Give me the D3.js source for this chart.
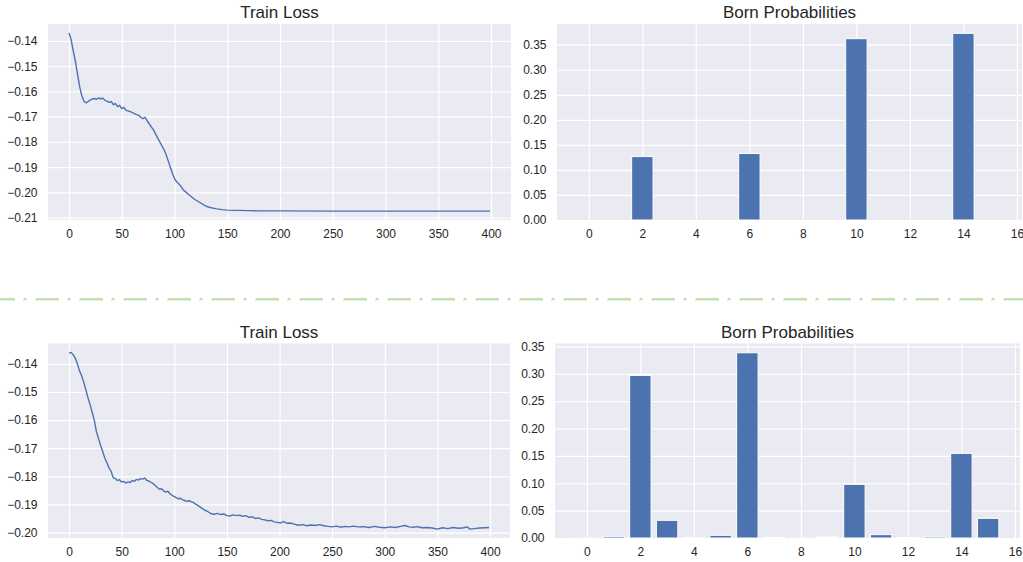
<!DOCTYPE html>
<html>
<head>
<meta charset="utf-8">
<script src="https://cdn.jsdelivr.net/npm/d3@7"></script>
<style>
  body { margin: 0; background: #ffffff; }
  svg { display: block; }
  text { font-family: "Liberation Sans", Arial, sans-serif; fill: #262626; }
</style>
</head>
<body>
<svg id="fig" width="1023" height="562"></svg>
<script>
// ---- Run 1: training loss (step, value) ----
const lossStepsA = [0,2,4,6,8,10,12,14,16,18,20,22,24,26,28,30,32,34,36,38,40,42,44,46,48,50,52,54,56,58,60,62,64,66,68,70,72,74,76,78,80,82,84,86,88,90,92,94,96,98,100,102,104,106,108,110,112,114,116,118,120,124,128,132,136,140,145,150,160,170,180,200,250,300,350,399];
const lossValuesA = [-0.1368,-0.1395,-0.1440,-0.1480,-0.1530,-0.1580,-0.1615,-0.1638,-0.1645,-0.1640,-0.1634,-0.1630,-0.1628,-0.1631,-0.1626,-0.1629,-0.1627,-0.1635,-0.1638,-0.1643,-0.1640,-0.1652,-0.1648,-0.1660,-0.1655,-0.1668,-0.1663,-0.1675,-0.1677,-0.1680,-0.1684,-0.1688,-0.1692,-0.1694,-0.1702,-0.1708,-0.1703,-0.1716,-0.1728,-0.1740,-0.1752,-0.1768,-0.1785,-0.1800,-0.1815,-0.1830,-0.1850,-0.1875,-0.1900,-0.1925,-0.1945,-0.1958,-0.1966,-0.1975,-0.1988,-0.1996,-0.2003,-0.2010,-0.2017,-0.2024,-0.2030,-0.2040,-0.2050,-0.2058,-0.2062,-0.2065,-0.2068,-0.2070,-0.2071,-0.2072,-0.2073,-0.2073,-0.2074,-0.2074,-0.2074,-0.2074];

// ---- Run 1: Born probabilities per basis state ----
const statesA = [0,1,2,3,4,5,6,7,8,9,10,11,12,13,14,15];
const probsA = [0,0,0.1266,0,0,0,0.1327,0,0,0,0.3620,0,0,0,0.3727,0];

// ---- Run 2: training loss (step, value) ----
const lossStepsB = [0,2,4,6,8,10,12,14,16,18,20,22,24,26,28,30,32,34,36,38,40,42,44,46,48,50,52,54,56,58,60,62,64,66,68,70,72,74,76,78,80,82,84,86,88,90,92,94,96,98,100,102,104,106,108,110,112,114,116,118,120,123,126,129,132,135,138,141,144,147,150,153,156,159,162,165,168,171,174,177,180,183,186,189,192,195,198,201,204,207,210,214,218,222,226,230,234,238,242,246,250,254,258,262,266,270,275,280,285,290,295,300,305,310,315,319,323,327,331,335,340,345,350,355,360,365,370,375,378,381,385,390,395,399];
const lossValuesB = [-0.1362,-0.1359,-0.1368,-0.1380,-0.1400,-0.1425,-0.1442,-0.1465,-0.1492,-0.1520,-0.1545,-0.1572,-0.1600,-0.1640,-0.1665,-0.1690,-0.1712,-0.1735,-0.1752,-0.1770,-0.1782,-0.1805,-0.1808,-0.1815,-0.1812,-0.1820,-0.1818,-0.1824,-0.1820,-0.1822,-0.1815,-0.1818,-0.1811,-0.1813,-0.1808,-0.1810,-0.1806,-0.1815,-0.1817,-0.1822,-0.1826,-0.1833,-0.1840,-0.1846,-0.1844,-0.1852,-0.1856,-0.1853,-0.1862,-0.1868,-0.1872,-0.1876,-0.1880,-0.1878,-0.1884,-0.1886,-0.1889,-0.1887,-0.1890,-0.1893,-0.1898,-0.1905,-0.1913,-0.1920,-0.1926,-0.1933,-0.1935,-0.1932,-0.1936,-0.1934,-0.1940,-0.1941,-0.1937,-0.1940,-0.1938,-0.1942,-0.1940,-0.1946,-0.1944,-0.1950,-0.1948,-0.1953,-0.1955,-0.1958,-0.1957,-0.1962,-0.1964,-0.1966,-0.1961,-0.1967,-0.1966,-0.1970,-0.1974,-0.1972,-0.1976,-0.1973,-0.1975,-0.1972,-0.1976,-0.1978,-0.1980,-0.1977,-0.1981,-0.1978,-0.1980,-0.1977,-0.1980,-0.1979,-0.1982,-0.1978,-0.1981,-0.1983,-0.1980,-0.1982,-0.1978,-0.1975,-0.1980,-0.1981,-0.1979,-0.1983,-0.1982,-0.1984,-0.1988,-0.1983,-0.1986,-0.1982,-0.1985,-0.1983,-0.1980,-0.1988,-0.1986,-0.1984,-0.1983,-0.1982];

// ---- Run 2: Born probabilities per basis state ----
const statesB = [0,1,2,3,4,5,6,7,8,9,10,11,12,13,14,15];
const probsB = [0.0003,0.0030,0.2970,0.0323,0.0008,0.0049,0.3384,0.0012,0.0004,0.0018,0.0980,0.0061,0.0010,0.0024,0.1546,0.0359];

// ---- Tick values ----
const stepTicks = [0,50,100,150,200,250,300,350,400];
const stateTicks = [0,2,4,6,8,10,12,14,16];
const lossTicksA = [-0.21,-0.20,-0.19,-0.18,-0.17,-0.16,-0.15,-0.14];
const lossTicksB = [-0.20,-0.19,-0.18,-0.17,-0.16,-0.15,-0.14];
const probTicks = [0,0.05,0.10,0.15,0.20,0.25,0.30,0.35];

// ---- Style ----
const BLUE = "#4c72b0";
const PANEL_BG = "#eaeaf2";
const TICK_FONT = 12;
const TITLE_FONT = 17;

const svg = d3.select("#fig");

// Pad a numeric extent by a fraction of its span on both sides
function padded(lo, hi, frac) {
  const m = (hi - lo) * frac;
  return [lo - m, hi + m];
}

function panelFrame(box, x, y, xTicks, yTicks, yFmt, xFmt, title) {
  const g = svg.append("g");
  g.append("rect")
    .attr("x", box.left).attr("y", box.top)
    .attr("width", box.right - box.left).attr("height", box.bottom - box.top)
    .attr("fill", PANEL_BG);

  const w = box.right - box.left, h = box.bottom - box.top;

  // white grid
  const gx = g.append("g").attr("transform", `translate(0,${box.bottom})`)
    .call(d3.axisBottom(x).tickValues(xTicks).tickSize(-h).tickFormat(""));
  const gy = g.append("g").attr("transform", `translate(${box.left},0)`)
    .call(d3.axisLeft(y).tickValues(yTicks).tickSize(-w).tickFormat(""));
  [gx, gy].forEach(a => {
    a.select(".domain").remove();
    a.selectAll(".tick line").attr("stroke", "#ffffff").attr("stroke-width", 1.2);
  });

  // tick labels
  const lx = g.append("g").attr("transform", `translate(0,${box.bottom})`)
    .call(d3.axisBottom(x).tickValues(xTicks).tickSize(0).tickPadding(9.8).tickFormat(xFmt));
  const ly = g.append("g").attr("transform", `translate(${box.left},0)`)
    .call(d3.axisLeft(y).tickValues(yTicks).tickSize(0).tickPadding(10.5).tickFormat(yFmt));
  [lx, ly].forEach(a => {
    a.select(".domain").remove();
    a.attr("font-family", null).attr("font-size", null);
    a.selectAll("text").style("font-size", TICK_FONT + "px").attr("fill", "#262626");
  });

  g.append("text")
    .attr("x", (box.left + box.right) / 2)
    .attr("y", box.top - 5.6)
    .attr("text-anchor", "middle")
    .style("font-size", TITLE_FONT + "px")
    .text(title);
  return g;
}

function lossPanel(box, steps, values, yTicks) {
  const x = d3.scaleLinear()
    .domain(padded(d3.min(steps), d3.max(steps), 0.05))
    .range([box.left, box.right]);
  const y = d3.scaleLinear()
    .domain(padded(d3.min(values), d3.max(values), 0.05))
    .range([box.bottom, box.top]);
  const g = panelFrame(box, x, y, stepTicks, yTicks, d3.format(".2f"), d3.format("d"), "Train Loss");
  const pts = steps.map((s, i) => [s, values[i]]);
  g.append("path")
    .datum(pts)
    .attr("fill", "none")
    .attr("stroke", BLUE)
    .attr("stroke-width", 1.4)
    .attr("stroke-linejoin", "round")
    .attr("d", d3.line().x(d => x(d[0])).y(d => y(d[1])));
}

function probPanel(box, states, probs) {
  const barW = 0.8;
  const x = d3.scaleLinear()
    .domain(padded(d3.min(states) - barW / 2, d3.max(states) + barW / 2, 0.05))
    .range([box.left, box.right]);
  const y = d3.scaleLinear()
    .domain([0, d3.max(probs) * 1.05])
    .range([box.bottom, box.top]);
  const g = panelFrame(box, x, y, stateTicks, probTicks, d3.format(".2f"), d3.format("d"), "Born Probabilities");
  g.append("g").selectAll("rect")
    .data(states)
    .join("rect")
    .attr("x", (s) => x(s - barW / 2))
    .attr("width", (s) => x(s + barW / 2) - x(s - barW / 2))
    .attr("y", (s, i) => y(probs[i]))
    .attr("height", (s, i) => y(0) - y(probs[i]))
    .attr("fill", BLUE)
    .attr("stroke", "#ffffff")
    .attr("stroke-width", 1);
}

lossPanel({ left: 48, right: 511, top: 24, bottom: 220 }, lossStepsA, lossValuesA, lossTicksA);
probPanel({ left: 557, right: 1022, top: 24, bottom: 220 }, statesA, probsA);
lossPanel({ left: 48, right: 510, top: 343.5, bottom: 538 }, lossStepsB, lossValuesB, lossTicksB);
probPanel({ left: 555, right: 1020, top: 343.5, bottom: 538 }, statesB, probsB);

// dash-dot separator between the two runs
svg.append("line")
  .attr("x1", 0).attr("x2", 1023)
  .attr("y1", 299.3).attr("y2", 299.3)
  .attr("stroke", "#c5dfb3")
  .attr("stroke-width", 2.5)
  .attr("stroke-dasharray", "23.5,8.5,3,9")
  .attr("stroke-dashoffset", 8.5);
</script>
</body>
</html>
